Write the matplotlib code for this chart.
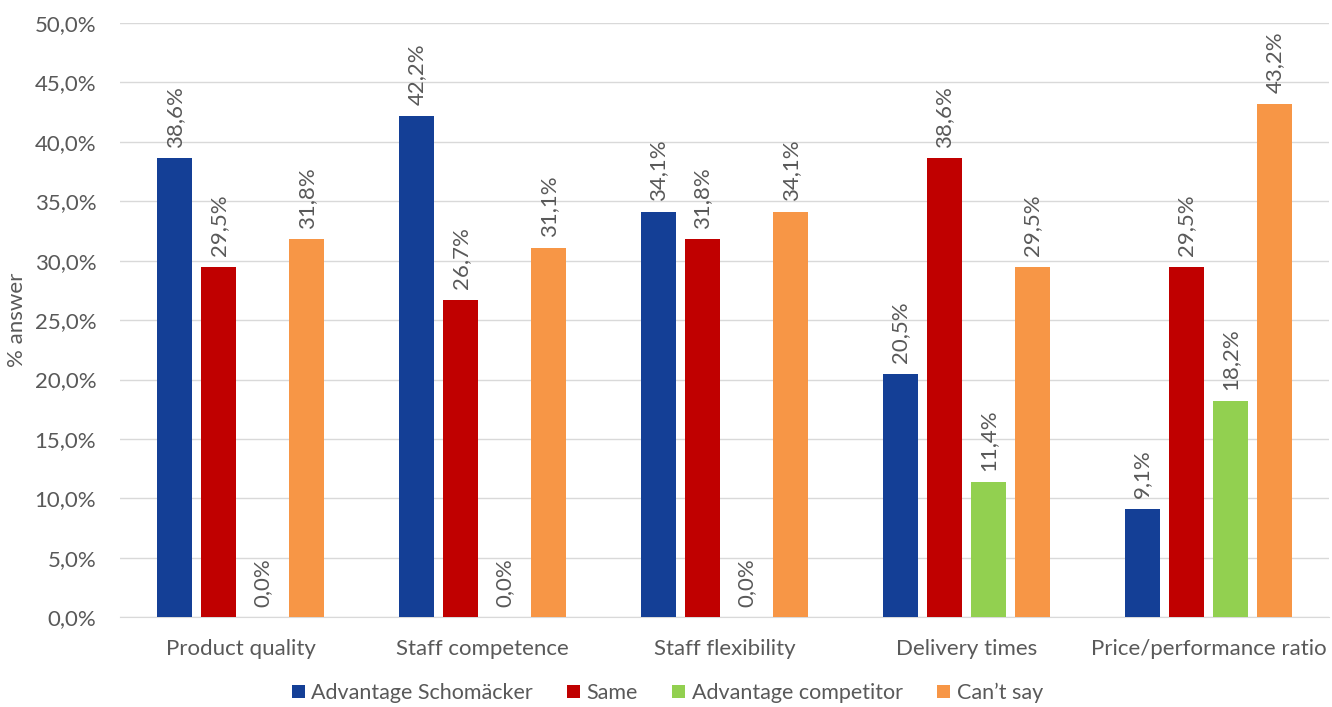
import numpy as np
import matplotlib.pyplot as plt
from matplotlib.ticker import FuncFormatter

plt.rcParams['font.family'] = ['Lato', 'DejaVu Sans']

# === DATOS ===
categories = ["Product quality", "Staff competence", "Staff flexibility", "Delivery times", "Price/performance ratio"]
series_names = ["Advantage Schomäcker", "Same", "Advantage competitor", "Can\u2019t say"]
adv_schomaecker = [38.6, 42.2, 34.1, 20.5, 9.1]
same = [29.5, 26.7, 31.8, 38.6, 29.5]
adv_competitor = [0.0, 0.0, 0.0, 11.4, 18.2]
cant_say = [31.8, 31.1, 34.1, 29.5, 43.2]
colors = ["#143F96", "#C00000", "#92D050", "#F79646"]

series = [adv_schomaecker, same, adv_competitor, cant_say]
text_color = "#595959"
fs = 16

fig = plt.figure(figsize=(13.32, 7.07), dpi=100)
ax = fig.add_axes([0.090, 0.127, 0.908, 0.8405])

x = np.arange(len(categories))
width = 0.145
step = 0.182

for i, (vals, name, col) in enumerate(zip(series, series_names, colors)):
    pos = x + (i - 1.5) * step
    ax.bar(pos, vals, width=width, color=col, label=name, zorder=3)
    for p, v in zip(pos, vals):
        ax.text(p, v + 0.9, f"{v:.1f}%".replace(".", ","), rotation=90,
                ha="center", va="bottom", fontsize=fs, color=text_color)

ax.set_xlim(-0.5, len(categories) - 0.5)
ax.set_ylim(0, 50)
ax.set_yticks(np.arange(0, 50.1, 5))
ax.yaxis.set_major_formatter(FuncFormatter(lambda v, _: f"{v:.1f}%".replace(".", ",")))
ax.set_xticks(x)
ax.set_xticklabels(categories)
ax.tick_params(axis="both", length=0, labelsize=fs, colors=text_color)
ax.tick_params(axis="y", pad=17)
ax.tick_params(axis="x", pad=16)
ax.grid(axis="y", color="#D9D9D9", linewidth=1, zorder=0)
for s in ["top", "right", "left"]:
    ax.spines[s].set_visible(False)
ax.spines["bottom"].set_color("#D9D9D9")

ax.set_ylabel("% answer", fontsize=fs, color=text_color)
ax.yaxis.set_label_coords(-0.077, 0.5)

leg = fig.legend(loc="lower center", ncol=4, frameon=False, fontsize=15.5,
                 bbox_to_anchor=(0.501, -0.022), handlelength=0.6, handleheight=0.6,
                 columnspacing=1.6, handletextpad=0.3)
for t in leg.get_texts():
    t.set_color(text_color)

fig.savefig("out.png", dpi=100)
